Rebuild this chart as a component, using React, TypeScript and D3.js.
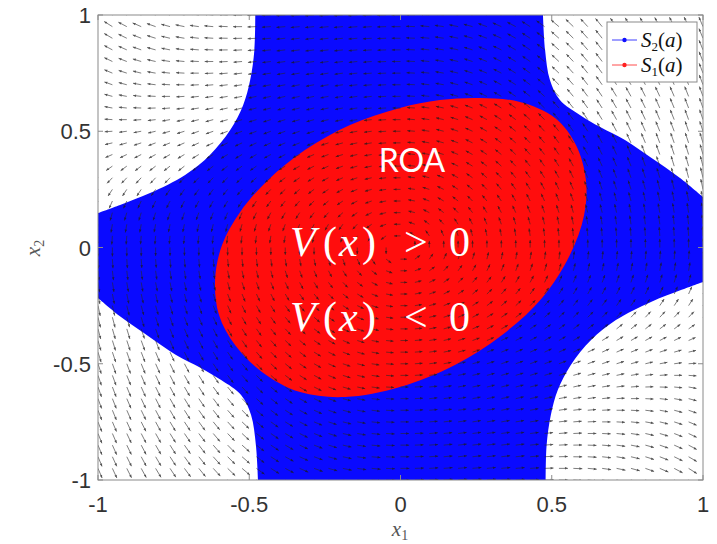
import React from "react";
import * as d3 from "d3";

const WIDTH = 717;
const HEIGHT = 544;
const PLOT = { left: 98, right: 703, top: 15, bottom: 480 };

const X_TICKS = [-1, -0.5, 0, 0.5, 1];
const Y_TICKS = [-1, -0.5, 0, 0.5, 1];
const X_TICK_LABELS = ["-1", "-0.5", "0", "0.5", "1"];
const Y_TICK_LABELS = ["-1", "-0.5", "0", "0.5", "1"];

// quiver grid size
const GRID_NX = 43;
const GRID_NY = 41;
// dynamics: x1' = -x2, x2' = x1 + K x1^2 x2 + C x2
const FIELD_K = 2;
const FIELD_C = 0;

// white corners outside S2(a), boundary (data coords)
const CORNER_TL = [
  [-0.48, 1], [-0.483, 0.85], [-0.497, 0.72], [-0.52, 0.613], [-0.563, 0.505],
  [-0.63, 0.398], [-0.712, 0.312], [-0.828, 0.234], [-0.927, 0.183], [-1, 0.148],
];
const CORNER_TR = [
  [0.471, 1], [0.478, 0.85], [0.494, 0.72], [0.527, 0.634], [0.593, 0.57],
  [0.66, 0.518], [0.742, 0.462], [0.825, 0.389], [0.924, 0.299], [1, 0.217],
];
const CORNER_BR = [
  [0.48, -1], [0.483, -0.85], [0.497, -0.72], [0.52, -0.613], [0.563, -0.505],
  [0.63, -0.398], [0.712, -0.312], [0.828, -0.234], [0.927, -0.183], [1, -0.148],
];
const CORNER_BL = [
  [-0.471, -1], [-0.478, -0.85], [-0.494, -0.72], [-0.527, -0.634], [-0.593, -0.57],
  [-0.66, -0.518], [-0.742, -0.462], [-0.825, -0.389], [-0.924, -0.299], [-1, -0.217],
];

// S1(a) boundary
const S1_BOUND = [
  [0.263, 0.643], [0.395, 0.626], [0.511, 0.557], [0.58, 0.441], [0.613, 0.29],
  [0.607, 0.14], [0.56, -0.032], [0.468, -0.217], [0.336, -0.376], [0.18, -0.505],
  [-0.002, -0.6], [-0.183, -0.643], [-0.332, -0.622], [-0.458, -0.535], [-0.547, -0.419],
  [-0.6, -0.29], [-0.613, -0.14], [-0.59, 0.011], [-0.53, 0.153], [-0.438, 0.29],
  [-0.316, 0.419], [-0.167, 0.527], [-0.002, 0.6], [0.13, 0.634],
];

const LEGEND = [
  { label: "2", color: "#1010ff" },
  { label: "1", color: "#ff2020" },
];

const V_LABELS = [">", "<"];

export default function App() {
  const x = d3.scaleLinear().domain([-1, 1]).range([PLOT.left, PLOT.right]);
  const y = d3.scaleLinear().domain([-1, 1]).range([PLOT.bottom, PLOT.top]);

  const smooth = d3
    .line<number[]>()
    .x((d) => x(d[0]))
    .y((d) => y(d[1]))
    .curve(d3.curveCatmullRom);

  const cornerPath = (pts: number[][], cx: number, cy: number) =>
    `${smooth(pts)}L${x(cx)},${y(cy)}Z`;

  const redPath = d3
    .line<number[]>()
    .x((d) => x(d[0]))
    .y((d) => y(d[1]))
    .curve(d3.curveCatmullRomClosed)(S1_BOUND);

  // quiver
  const gx = d3.range(GRID_NX).map((i) => -1 + (2 * i) / (GRID_NX - 1));
  const gy = d3.range(GRID_NY).map((j) => -1 + (2 * j) / (GRID_NY - 1));
  const sx = (PLOT.right - PLOT.left) / 2;
  const sy = (PLOT.bottom - PLOT.top) / 2;
  const shafts = d3.path();
  const heads = d3.path();
  gx.forEach((a) => {
    gy.forEach((b) => {
      const u = -b;
      const v = a + FIELD_K * a * a * b + FIELD_C * b;
      const mag = Math.hypot(u, v);
      if (mag < 1e-6) return;
      let dx = u * sx;
      let dy = -v * sy;
      const n = Math.hypot(dx, dy);
      dx /= n;
      dy /= n;
      const len = 10.5 * (0.6 + 0.4 * Math.min(1, mag / 1.5));
      const x0 = x(a);
      const y0 = y(b);
      const x1 = x0 + dx * len;
      const y1 = y0 + dy * len;
      shafts.moveTo(x0, y0);
      shafts.lineTo(x1, y1);
      const ang = Math.atan2(dy, dx);
      const h = 3.2;
      heads.moveTo(x1, y1);
      heads.lineTo(x1 - h * Math.cos(ang + 0.4), y1 - h * Math.sin(ang + 0.4));
      heads.lineTo(x1 - h * Math.cos(ang - 0.4), y1 - h * Math.sin(ang - 0.4));
      heads.closePath();
    });
  });

  return (
    <svg
      width={WIDTH}
      height={HEIGHT}
      style={{ position: "absolute", left: 0, top: 0, background: "#fff" }}
    >
      <defs>
        <clipPath id="plotClip">
          <rect
            x={PLOT.left}
            y={PLOT.top}
            width={PLOT.right - PLOT.left}
            height={PLOT.bottom - PLOT.top}
          />
        </clipPath>
      </defs>
      <g clipPath="url(#plotClip)">
        <rect
          x={PLOT.left}
          y={PLOT.top}
          width={PLOT.right - PLOT.left}
          height={PLOT.bottom - PLOT.top}
          fill="#0a0aff"
        />
        <path d={cornerPath(CORNER_TL, -1, 1)} fill="#fff" />
        <path d={cornerPath(CORNER_TR, 1, 1)} fill="#fff" />
        <path d={cornerPath(CORNER_BR, 1, -1)} fill="#fff" />
        <path d={cornerPath(CORNER_BL, -1, -1)} fill="#fff" />
        <path d={redPath || ""} fill="#ff0d0d" />
        <g opacity={0.75}>
          <path d={shafts.toString()} stroke="#2a2a2a" strokeWidth={0.8} fill="none" />
          <path d={heads.toString()} fill="#1a1a1a" stroke="none" />
        </g>
      </g>

      {/* axes box */}
      <rect
        x={PLOT.left}
        y={PLOT.top}
        width={PLOT.right - PLOT.left}
        height={PLOT.bottom - PLOT.top}
        fill="none"
        stroke="#8a8a8a"
        strokeWidth={1}
      />
      {X_TICKS.map((t, i) => (
        <g key={`xt${i}`}>
          <line x1={x(t)} x2={x(t)} y1={PLOT.bottom} y2={PLOT.bottom - 5} stroke="#8a8a8a" />
          <line x1={x(t)} x2={x(t)} y1={PLOT.top} y2={PLOT.top + 5} stroke="#8a8a8a" />
          <text
            x={x(t)}
            y={PLOT.bottom + 32}
            textAnchor="middle"
            fontFamily="Liberation Sans, Arial, sans-serif"
            fontSize={22}
            fill="#333"
          >
            {X_TICK_LABELS[i]}
          </text>
        </g>
      ))}
      {Y_TICKS.map((t, i) => (
        <g key={`yt${i}`}>
          <line x1={PLOT.left} x2={PLOT.left + 5} y1={y(t)} y2={y(t)} stroke="#8a8a8a" />
          <line x1={PLOT.right} x2={PLOT.right - 5} y1={y(t)} y2={y(t)} stroke="#8a8a8a" />
          <text
            x={PLOT.left - 7}
            y={y(t) + 8}
            textAnchor="end"
            fontFamily="Liberation Sans, Arial, sans-serif"
            fontSize={22}
            fill="#333"
          >
            {Y_TICK_LABELS[i]}
          </text>
        </g>
      ))}

      {/* axis labels */}
      <text
        x={400}
        y={536}
        textAnchor="middle"
        fontFamily="Liberation Serif, serif"
        fontStyle="italic"
        fontSize={21}
        fill="#555"
      >
        x<tspan fontStyle="normal" fontSize={14} dy={4}>1</tspan>
      </text>
      <text
        transform="translate(40,248) rotate(-90)"
        textAnchor="middle"
        fontFamily="Liberation Serif, serif"
        fontStyle="italic"
        fontSize={21}
        fill="#555"
      >
        x<tspan fontStyle="normal" fontSize={14} dy={4}>2</tspan>
      </text>

      {/* annotations */}
      <text
        x={412}
        y={172}
        textAnchor="middle"
        fontFamily="Lato, sans-serif"
        fontSize={32}
        fill="#fff"
      >
        ROA
      </text>
      {V_LABELS.map((op, i) => (
        <text
          key={op}
          y={256 + i * 75}
          fontFamily="Liberation Serif, serif"
          fontSize={42}
          fill="#fff"
        >
          <tspan x={290} fontStyle="italic">V</tspan>
          <tspan x={323}>(</tspan>
          <tspan x={339} fontStyle="italic">x</tspan>
          <tspan x={362}>)</tspan>
          <tspan x={404}>{op}</tspan>
          <tspan x={449}>0</tspan>
        </text>
      ))}

      {/* legend */}
      <rect x={607} y={22} width={90} height={60} fill="#fff" stroke="#8a8a8a" strokeWidth={1} />
      {LEGEND.map((d, i) => (
        <g key={d.label} transform={`translate(0,${40 + i * 25})`}>
          <line x1={612} x2={637} y1={0} y2={0} stroke={d.color} strokeWidth={1} opacity={0.8} />
          <circle cx={624.5} cy={0} r={2.2} fill={d.color} />
          <text x={641} y={7} fontFamily="Liberation Serif, serif" fontSize={21} fill="#111">
            <tspan fontStyle="italic">S</tspan>
            <tspan fontSize={13} dy={4}>{d.label}</tspan>
            <tspan dy={-4}>(</tspan>
            <tspan fontStyle="italic">a</tspan>
            <tspan>)</tspan>
          </text>
        </g>
      ))}
    </svg>
  );
}
